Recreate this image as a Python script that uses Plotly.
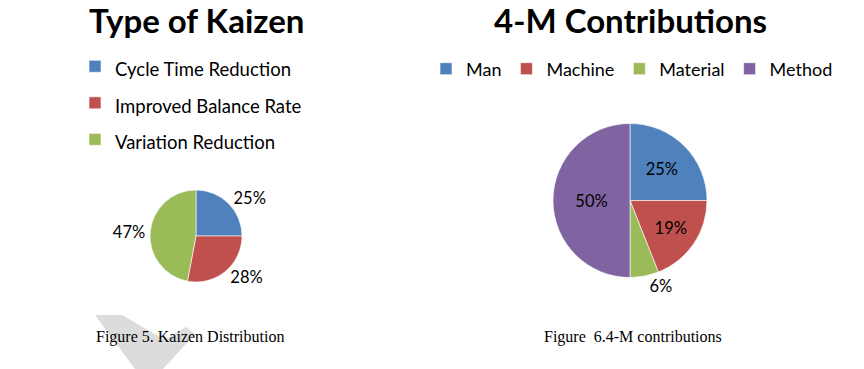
import plotly.graph_objects as go

# ---- data ----
kaizen_labels = ["Cycle Time Reduction", "Improved Balance Rate", "Variation Reduction"]
kaizen_values = [25, 28, 47]

m4_labels = ["Man", "Machine", "Material", "Method"]
m4_values = [25, 19, 6, 50]

titles = ["Type of Kaizen", "4-M Contributions"]
captions = ["Figure 5. Kaizen Distribution", "Figure\u00a0 6.4-M contributions"]

colors = ["#4F81BD", "#C0504D", "#9BBB59", "#8064A2"]

# page has an 8px body margin; figure placed from (8,8)
OFF = 8
W, H = 864 - OFF, 369 - OFF
FONT = "Lato"

def px(x):
    return (x - OFF) / W

def py(y):
    return 1 - (y - OFF) / H

fig = go.Figure()

# left pie: legend rows spaced via a larger legend font, text itself drawn at 18.5px
kaizen_legend_labels = ['<span style="font-size:18.5px">%s</span>' % s for s in kaizen_labels]

fig.add_trace(go.Pie(
    labels=kaizen_legend_labels,
    values=kaizen_values,
    sort=False,
    direction="clockwise",
    rotation=0,
    marker=dict(colors=colors[:3], line=dict(color="white", width=0.6)),
    texttemplate="%{percent:.0%}",
    textposition="outside",
    textfont=dict(family=FONT, size=16.5, color="#000000"),
    hoverinfo="percent",
    domain=dict(x=[px(150), px(242)], y=[py(282), py(190)]),
    legend="legend",
    showlegend=True,
))

fig.add_trace(go.Pie(
    labels=m4_labels,
    values=m4_values,
    sort=False,
    direction="clockwise",
    rotation=0,
    marker=dict(colors=colors, line=dict(color="white", width=0.6)),
    texttemplate="%{percent:.0%}",
    textposition=["inside", "inside", "outside", "inside"],
    insidetextorientation="horizontal",
    textfont=dict(family=FONT, size=16.5, color="#000000"),
    insidetextfont=dict(family=FONT, size=16.5, color="#000000"),
    outsidetextfont=dict(family=FONT, size=16.5, color="#000000"),
    hoverinfo="label+percent",
    domain=dict(x=[px(553), px(707)], y=[py(278), py(123)]),
    legend="legend2",
    showlegend=True,
))

annotations = [
    dict(text="<b>%s</b>" % titles[0], x=px(196), y=py(20), xref="paper", yref="paper",
         xanchor="center", yanchor="middle", showarrow=False,
         font=dict(family=FONT, size=33, color="#000000")),
    dict(text="<b>%s</b>" % titles[1], x=px(630), y=py(20), xref="paper", yref="paper",
         xanchor="center", yanchor="middle", showarrow=False,
         font=dict(family=FONT, size=33, color="#000000")),
    dict(text=captions[0], x=px(190), y=py(337), xref="paper", yref="paper",
         xanchor="center", yanchor="middle", showarrow=False,
         font=dict(family="Liberation Serif", size=16, color="#000000")),
    dict(text=captions[1], x=px(633), y=py(337), xref="paper", yref="paper",
         xanchor="center", yanchor="middle", showarrow=False,
         font=dict(family="Liberation Serif", size=16, color="#000000")),
]

wm = [(95, 315), (122, 315), (165, 340), (186, 327), (195, 334), (163, 369), (135, 369)]
path = "M " + " L ".join("%f,%f" % (px(a), py(b)) for a, b in wm) + " Z"

fig.update_layout(
    width=W, height=H,
    margin=dict(l=0, r=0, t=0, b=0),
    paper_bgcolor="white",
    plot_bgcolor="white",
    annotations=annotations,
    shapes=[dict(type="path", path=path, xref="paper", yref="paper",
                 fillcolor="#DCDCDC", line=dict(width=0), layer="below")],
    legend=dict(
        x=px(75), y=py(43), xanchor="left", yanchor="top",
        orientation="v", bgcolor="rgba(0,0,0,0)",
        font=dict(family=FONT, size=25.8, color="#000000"),
        itemclick=False, itemdoubleclick=False,
    ),
    legend2=dict(
        x=px(632), y=py(69), xanchor="center", yanchor="middle",
        orientation="h", bgcolor="rgba(0,0,0,0)",
        font=dict(family=FONT, size=18, color="#000000"),
        itemclick=False, itemdoubleclick=False,
    ),
)

fig.write_html("out.html")
